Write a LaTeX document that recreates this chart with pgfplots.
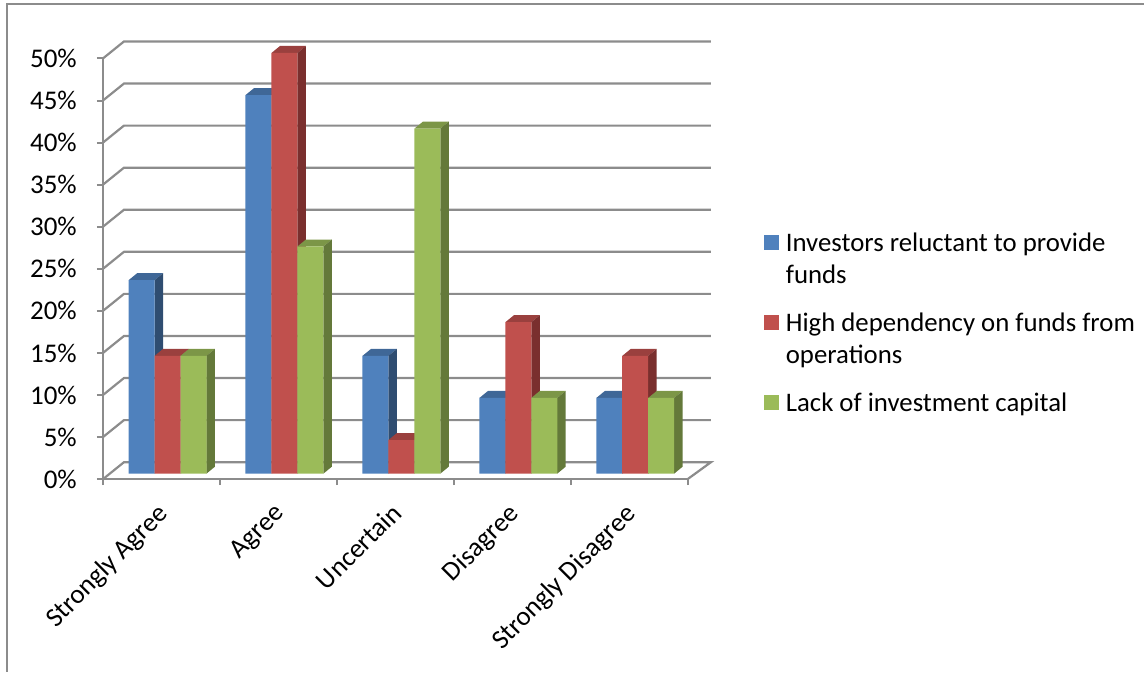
\documentclass[border=0pt]{standalone}
\usepackage{pgfplots}
\usepackage{pgfplotstable}
\usepackage{fontspec}
\setmainfont{Carlito}
\pgfplotsset{compat=1.18}
\definecolor{cblue}{HTML}{4F81BD}\definecolor{cred}{HTML}{C0504D}\definecolor{cgreen}{HTML}{9BBB59}
\definecolor{tblue}{HTML}{3F6797}\definecolor{tred}{HTML}{9A403E}\definecolor{tgreen}{HTML}{7C9647}
\definecolor{sblue}{HTML}{2F4D71}\definecolor{sred}{HTML}{7A2F2E}\definecolor{sgreen}{HTML}{64793A}
\definecolor{gridc}{HTML}{8C8C8C}
\pgfplotstableread{
x v1 v2 v3
0 23 14 14
1 45 50 27
2 14 4 41
3 9 18 9
4 9 14 9
}\chartdata
\pgfplotsset{sq/.style={legend image code/.code={\path (22pt,0pt); \fill[##1] (0pt,-8.5pt) rectangle (15pt,6.5pt);}}}
% side and top faces of one bar: category, slot (-1,0,1), value, top colour, side colour
\newcommand{\faces}[5]{%
  \pgfmathsetmacro\xl{#1+(#2-0.5)*0.2217}%
  \pgfmathsetmacro\xr{\xl+0.2217}%
  \pgfmathsetmacro\xL{\xl+0.0726}%
  \pgfmathsetmacro\xR{\xr+0.0726}%
  \pgfmathsetmacro\vt{#3+0.83}%
  \edef\tmp{\noexpand\addplot[forget plot,fill=#4,draw=none] coordinates {(\xl,#3)(\xr,#3)(\xR,\vt)(\xL,\vt)} --cycle;
  \noexpand\addplot[forget plot,fill=#5,draw=none] coordinates {(\xr,0)(\xR,0.83)(\xR,\vt)(\xr,#3)} --cycle;}%
  \tmp}
\begin{document}
\begin{tikzpicture}[x=1pt,y=1pt]
\path (0,0) rectangle (1145,672);
\draw[gridc,line width=1.5pt] (7,0) -- (7,668) -- (1145,668);
\begin{axis}[
  at={(103pt,192.5pt)},anchor=origin,scale only axis,width=585pt,height=421pt,
  xmin=0,xmax=5,ymin=0,ymax=50,clip=false,
  axis lines=left,axis line style={-,gridc,line width=2.2pt},
  font=\fontsize{27}{32}\selectfont,
  unbounded coords=jump,
  ytick={0,5,...,50},yticklabels={0\%,5\%,10\%,15\%,20\%,25\%,30\%,35\%,40\%,45\%,50\%},
  xtick={0.5,1.5,2.5,3.5,4.5},xticklabels={Strongly Agree,Agree,Uncertain,Disagree,Strongly Disagree},
  minor xtick={0,1,2,3,4,5},
  major x tick style={draw=none},
  tick align=outside,tick pos=left,
  tick style={gridc,line width=2pt},
  major tick length=6pt,minor tick length=6pt,
  xticklabel style={rotate=45,anchor=north east,xshift=-15.4pt,yshift=-7.9pt,inner sep=0pt},
  yticklabel style={inner sep=0pt,xshift=-20pt},
]
\addplot[gridc,line width=2.2pt] coordinates {
 (0,0)(0.18,2.02)(5.2,2.02)(5,0) (nan,nan)
 (0,5)(0.18,7.02)(5.2,7.02) (nan,nan)
 (0,10)(0.18,12.02)(5.2,12.02) (nan,nan)
 (0,15)(0.18,17.02)(5.2,17.02) (nan,nan)
 (0,20)(0.18,22.02)(5.2,22.02) (nan,nan)
 (0,25)(0.18,27.02)(5.2,27.02) (nan,nan)
 (0,30)(0.18,32.02)(5.2,32.02) (nan,nan)
 (0,35)(0.18,37.02)(5.2,37.02) (nan,nan)
 (0,40)(0.18,42.02)(5.2,42.02) (nan,nan)
 (0,45)(0.18,47.02)(5.2,47.02) (nan,nan)
 (0,50)(0.18,52.02)(5.2,52.02)
};
\end{axis}
\begin{axis}[
  at={(167.65pt,198pt)},anchor=origin,scale only axis,width=585pt,height=421pt,
  xmin=-0.5,xmax=4.5,ymin=0,ymax=50,clip=false,
  axis lines=none,
  bar width=26pt,
  legend cell align=left,
  legend style={at={(655pt,244.5pt)},anchor=north west,draw=none,fill=none,
    font=\fontsize{26.8}{32}\selectfont,
    row sep=56pt,inner sep=0pt,nodes={inner sep=0pt}},
]
\faces{0}{-1}{23}{tblue}{sblue}\faces{1}{-1}{45}{tblue}{sblue}\faces{2}{-1}{14}{tblue}{sblue}\faces{3}{-1}{9}{tblue}{sblue}\faces{4}{-1}{9}{tblue}{sblue}
\addplot[ybar,bar shift=-26pt,fill=cblue,draw=none,sq] table[x=x,y=v1] {\chartdata};
\addlegendentry{\begin{tabular}[t]{@{}l@{}}Investors reluctant to provide\\funds\end{tabular}}
\faces{0}{0}{14}{tred}{sred}\faces{1}{0}{50}{tred}{sred}\faces{2}{0}{4}{tred}{sred}\faces{3}{0}{18}{tred}{sred}\faces{4}{0}{14}{tred}{sred}
\addplot[ybar,bar shift=0pt,fill=cred,draw=none,sq] table[x=x,y=v2] {\chartdata};
\addlegendentry{\begin{tabular}[t]{@{}l@{}}High dependency on funds from\\operations\end{tabular}}
\faces{0}{1}{14}{tgreen}{sgreen}\faces{1}{1}{27}{tgreen}{sgreen}\faces{2}{1}{41}{tgreen}{sgreen}\faces{3}{1}{9}{tgreen}{sgreen}\faces{4}{1}{9}{tgreen}{sgreen}
\addplot[ybar,bar shift=26pt,fill=cgreen,draw=none,sq] table[x=x,y=v3] {\chartdata};
\addlegendentry{\begin{tabular}[t]{@{}l@{}}Lack of investment capital\end{tabular}}
\end{axis}
\end{tikzpicture}
\end{document}
